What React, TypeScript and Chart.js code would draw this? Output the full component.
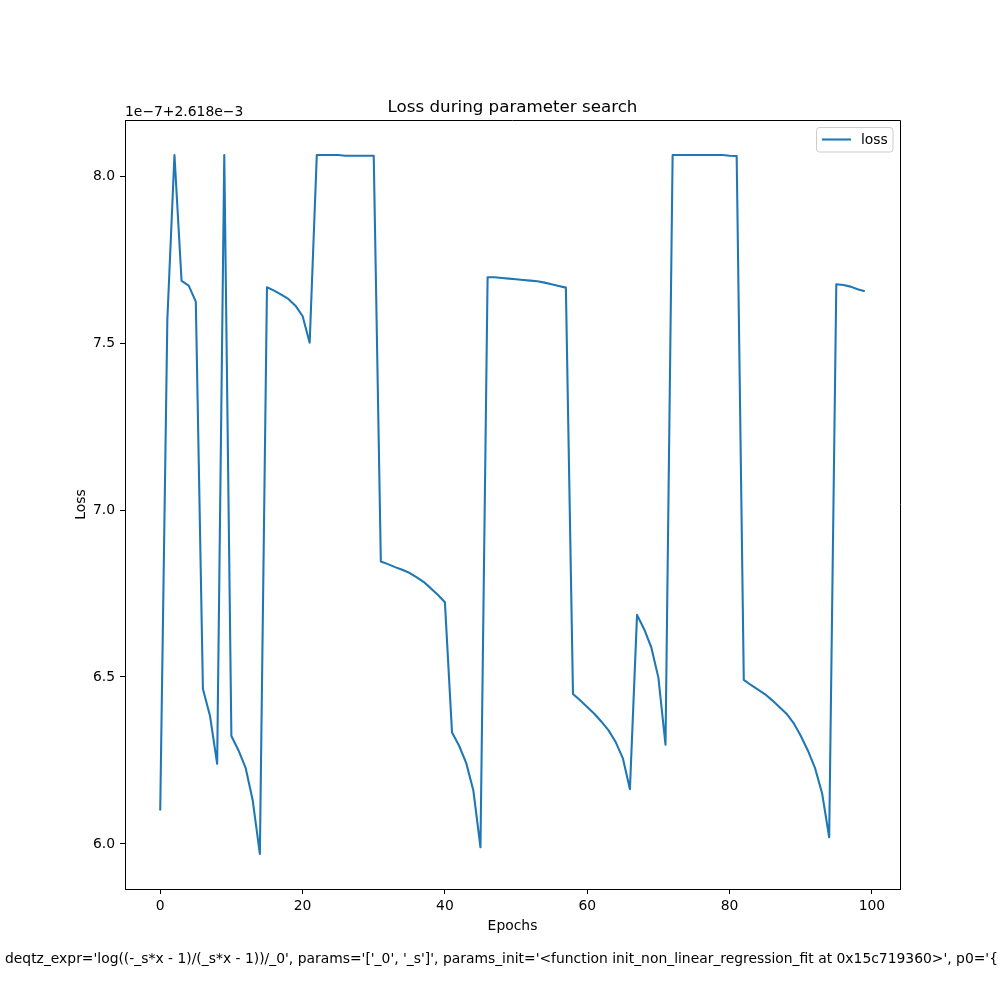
import React, { useEffect, useRef } from "react";
import { Chart, registerables } from "chart.js";

Chart.register(...registerables);

const epochs: number[] = [
  0, 1, 2, 3, 4, 5, 6, 7, 8, 9, 10, 11, 12, 13, 14, 15, 16, 17, 18, 19,
  20, 21, 22, 23, 24, 25, 26, 27, 28, 29, 30, 31, 32, 33, 34, 35, 36, 37, 38, 39,
  40, 41, 42, 43, 44, 45, 46, 47, 48, 49, 50, 51, 52, 53, 54, 55, 56, 57, 58, 59,
  60, 61, 62, 63, 64, 65, 66, 67, 68, 69, 70, 71, 72, 73, 74, 75, 76, 77, 78, 79,
  80, 81, 82, 83, 84, 85, 86, 87, 88, 89, 90, 91, 92, 93, 94, 95, 96, 97, 98, 99,
];

// loss values shown as (loss - 2.618e-3) / 1e-7
const lossValues: number[] = [
  6.10, 7.57, 8.063, 7.686, 7.672, 7.624, 6.464, 6.383, 6.240, 8.063,
  6.323, 6.280, 6.228, 6.130, 5.970, 7.667, 7.657, 7.645, 7.632, 7.612,
  7.581, 7.501, 8.063, 8.063, 8.063, 8.063, 8.061, 8.061, 8.061, 8.061,
  8.061, 6.846, 6.838, 6.829, 6.821, 6.812, 6.799, 6.785, 6.766, 6.746,
  6.724, 6.334, 6.294, 6.242, 6.160, 5.990, 7.697, 7.697, 7.695, 7.693,
  7.691, 7.689, 7.687, 7.685, 7.681, 7.676, 7.671, 7.666, 6.449, 6.430,
  6.410, 6.390, 6.366, 6.340, 6.305, 6.257, 6.164, 6.686, 6.643, 6.589,
  6.498, 6.297, 8.063, 8.063, 8.063, 8.063, 8.063, 8.063, 8.063, 8.063,
  8.061, 8.060, 6.491, 6.476, 6.462, 6.448, 6.430, 6.410, 6.390, 6.362,
  6.324, 6.280, 6.228, 6.152, 6.020, 7.676, 7.674, 7.669, 7.661, 7.655,
];

const xTicks: number[] = [0, 20, 40, 60, 80, 100];
const yTicks: number[] = [6.0, 6.5, 7.0, 7.5, 8.0];

const seriesLabel = "loss";
const titleText = "Loss during parameter search";
const xLabel = "Epochs";
const yLabel = "Loss";
const offsetText = "1e\u22127+2.618e\u22123";
const footerText =
  "deqtz_expr='log((-_s*x - 1)/(_s*x - 1))/_0', params='['_0', '_s']', params_init='<function init_non_linear_regression_fit at 0x15c719360>', p0='{";

const FONT = "'DejaVu Sans', sans-serif";
const LINE_COLOR = "#1f77b4";
const LINE_WIDTH = 2.08;

const decorPlugin = {
  id: "decor",
  afterDraw(chart: any) {
    const { ctx, chartArea } = chart;
    const { left, right, top, bottom } = chartArea;
    ctx.save();
    // top/right spines
    ctx.strokeStyle = "#000";
    ctx.lineWidth = 1;
    ctx.beginPath();
    ctx.moveTo(left, top + 0.5);
    ctx.lineTo(right + 0.5, top + 0.5);
    ctx.lineTo(right + 0.5, bottom);
    ctx.stroke();

    ctx.fillStyle = "#000";
    // title
    ctx.font = `16.7px ${FONT}`;
    ctx.textAlign = "center";
    ctx.textBaseline = "alphabetic";
    ctx.fillText(titleText, (left + right) / 2, 112);

    // offset text
    ctx.font = `13.9px ${FONT}`;
    ctx.textAlign = "left";
    ctx.fillText(offsetText, left, 116);

    // x label
    ctx.textAlign = "center";
    ctx.fillText(xLabel, (left + right) / 2, 930);

    // y label
    ctx.save();
    ctx.translate(85, (top + bottom) / 2);
    ctx.rotate(-Math.PI / 2);
    ctx.textAlign = "center";
    ctx.fillText(yLabel, 0, 0);
    ctx.restore();

    // footer
    ctx.save();
    ctx.textAlign = "left";
    const w = ctx.measureText(footerText).width;
    ctx.translate(5, 963);
    ctx.scale(993 / w, 1);
    ctx.fillText(footerText, 0, 0);
    ctx.restore();

    // legend
    const lx = 816, ly = 127, lw = 77, lh = 25;
    ctx.beginPath();
    const r = 3;
    ctx.moveTo(lx + r, ly + 0.5);
    ctx.arcTo(lx + lw, ly + 0.5, lx + lw, ly + lh, r);
    ctx.arcTo(lx + lw, ly + lh, lx, ly + lh, r);
    ctx.arcTo(lx + 0.5, ly + lh, lx + 0.5, ly, r);
    ctx.arcTo(lx + 0.5, ly + 0.5, lx + lw, ly + 0.5, r);
    ctx.closePath();
    ctx.fillStyle = "rgba(255,255,255,0.8)";
    ctx.fill();
    ctx.strokeStyle = "#cccccc";
    ctx.lineWidth = 1;
    ctx.stroke();
    const ds = chart.data.datasets[0];
    ctx.strokeStyle = ds.borderColor;
    ctx.lineWidth = LINE_WIDTH;
    ctx.beginPath();
    ctx.moveTo(822, 139.5);
    ctx.lineTo(851, 139.5);
    ctx.stroke();
    ctx.fillStyle = "#000";
    ctx.font = `13.9px ${FONT}`;
    ctx.textAlign = "left";
    ctx.textBaseline = "middle";
    ctx.fillText(ds.label, 861, 140);
    ctx.restore();
  },
};

export default function App() {
  const canvasRef = useRef<HTMLCanvasElement | null>(null);

  useEffect(() => {
    const canvas = canvasRef.current;
    if (!canvas) return;
    const chart = new Chart(canvas, {
      type: "line",
      data: {
        datasets: [
          {
            label: seriesLabel,
            data: epochs.map((e, i) => ({ x: e, y: lossValues[i] })),
            borderColor: LINE_COLOR,
            backgroundColor: LINE_COLOR,
            borderWidth: LINE_WIDTH,
            borderJoinStyle: "round",
            borderCapStyle: "butt",
            pointRadius: 0,
            tension: 0,
            fill: false,
          },
        ],
      },
      options: {
        responsive: false,
        animation: false,
        devicePixelRatio: 1,
        layout: { padding: { left: 0, top: 120, right: 100, bottom: 0 } },
        plugins: {
          legend: { display: false },
          title: { display: false },
          tooltip: { enabled: false },
        },
        scales: {
          x: {
            type: "linear",
            min: -4.95,
            max: 103.95,
            afterFit: (s: any) => {
              s.height = 111;
            },
            afterBuildTicks: (s: any) => {
              s.ticks = xTicks.map((v) => ({ value: v }));
            },
            ticks: {
              color: "#000",
              font: { family: FONT, size: 13.9 },
              padding: 4,
              maxRotation: 0,
              autoSkip: false,
              callback: (v: any) => String(v),
            },
            grid: {
              drawOnChartArea: false,
              drawTicks: true,
              tickLength: 5,
              color: "#000",
              lineWidth: 1,
            },
            border: { display: true, color: "#000", width: 1 },
          },
          y: {
            type: "linear",
            min: 5.865,
            max: 8.168,
            afterFit: (s: any) => {
              s.width = 125;
            },
            afterBuildTicks: (s: any) => {
              s.ticks = yTicks.map((v) => ({ value: v }));
            },
            ticks: {
              color: "#000",
              font: { family: FONT, size: 13.9 },
              padding: 5,
              autoSkip: false,
              callback: (v: any) => Number(v).toFixed(1),
            },
            grid: {
              drawOnChartArea: false,
              drawTicks: true,
              tickLength: 5,
              color: "#000",
              lineWidth: 1,
            },
            border: { display: true, color: "#000", width: 1 },
          },
        },
      },
      plugins: [decorPlugin],
    });
    return () => chart.destroy();
  }, []);

  return (
    <div style={{ position: "absolute", left: 0, top: 0, width: 1000, height: 1000, background: "#fff" }}>
      <canvas ref={canvasRef} width={1000} height={1000} style={{ width: 1000, height: 1000, display: "block" }} />
    </div>
  );
}
